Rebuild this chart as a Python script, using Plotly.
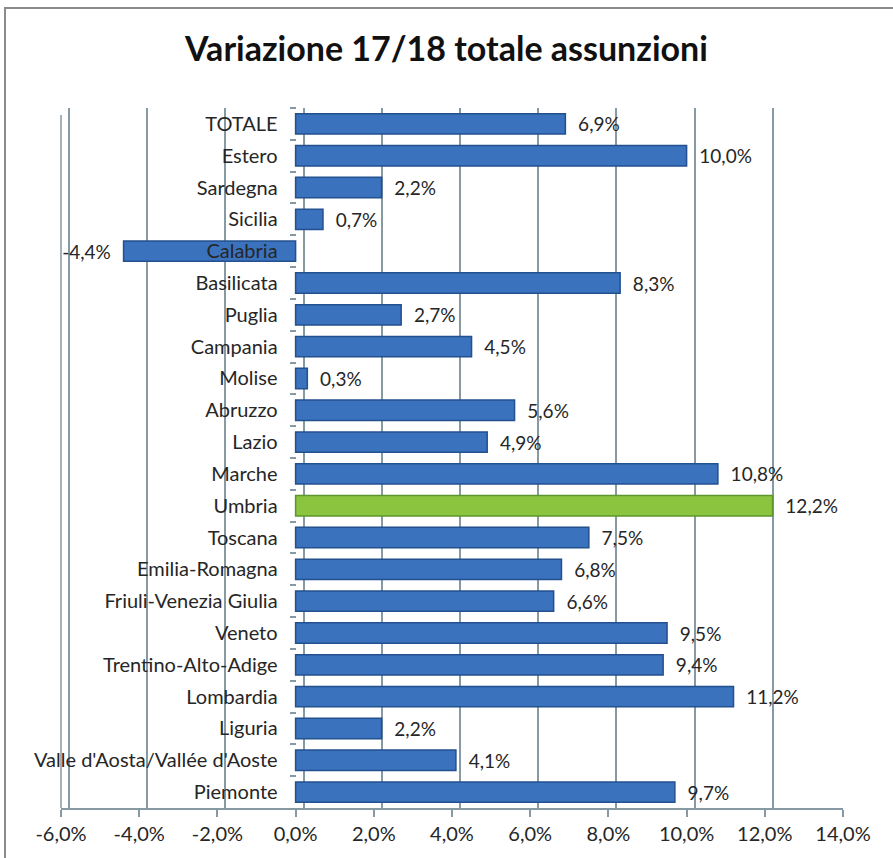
import plotly.graph_objects as go

categories = ["TOTALE", "Estero", "Sardegna", "Sicilia", "Calabria", "Basilicata", "Puglia",
              "Campania", "Molise", "Abruzzo", "Lazio", "Marche", "Umbria", "Toscana",
              "Emilia-Romagna", "Friuli-Venezia Giulia", "Veneto", "Trentino-Alto-Adige",
              "Lombardia", "Liguria", "Valle d'Aosta/Vallée d'Aoste", "Piemonte"]
values = [6.9, 10.0, 2.2, 0.7, -4.4, 8.3, 2.7, 4.5, 0.3, 5.6, 4.9, 10.8, 12.2, 7.5,
          6.8, 6.6, 9.5, 9.4, 11.2, 2.2, 4.1, 9.7]
highlight = "Umbria"
tick_vals = [-6, -4, -2, 0, 2, 4, 6, 8, 10, 12, 14]
tick_text = ["-6,0%", "-4,0%", "-2,0%", "0,0%", "2,0%", "4,0%", "6,0%", "8,0%", "10,0%", "12,0%", "14,0%"]

BLUE = "#3A72BE"
BLUE_EDGE = "#23508E"
GREEN = "#8BC43F"
GREEN_EDGE = "#5C962A"
GRID = "#8799A3"
FONT = "Lato, Calibri, sans-serif"
TXT = "#262626"

colors = [GREEN if c == highlight else BLUE for c in categories]
edges = [GREEN_EDGE if c == highlight else BLUE_EDGE for c in categories]
pad = "\u00a0\u00a0"
labels = []
for v in values:
    s = ("%.1f%%" % v).replace(".", ",")
    labels.append(pad + s if v >= 0 else s + pad)

W, H = 893, 858
ml, mr, mt, mb = 61, 50, 108, 50
pw = W - ml - mr
ph = H - mt - mb
xmin, xmax = -6, 14
px_per_unit = pw / (xmax - xmin)
depth = 8 / px_per_unit  # back-wall offset of the 3D gridlines
n = len(categories)

fig = go.Figure()
# invisible carrier so the back-wall (offset) grid axis gets drawn
fig.add_trace(go.Scatter(x=values, y=categories, xaxis="x2", mode="markers",
                         marker=dict(opacity=0), hoverinfo="skip", showlegend=False))
fig.add_trace(go.Bar(
    x=values, y=categories, orientation="h",
    marker=dict(color=colors, line=dict(color=edges, width=1.5)),
    width=0.64,
    text=labels, textposition="outside", cliponaxis=False, constraintext="none",
    textfont=dict(family=FONT, size=19, color=TXT),
))

zero_pos = (0 - xmin) / (xmax - xmin)

fig.update_layout(
    width=W, height=H,
    margin=dict(l=ml, r=mr, t=mt, b=mb, autoexpand=False),
    paper_bgcolor="white", plot_bgcolor="white",
    showlegend=False,
    title=dict(text="<b>Variazione 17/18 totale assunzioni</b>", x=0.5, xanchor="center",
               y=1 - 49 / H, yanchor="middle",
               font=dict(family=FONT, size=34, color="#111111")),
    xaxis=dict(range=[xmin, xmax], tickvals=tick_vals, ticktext=tick_text,
               showgrid=False, zeroline=False,
               showline=True, linecolor=GRID, linewidth=2,
               ticks="outside", ticklen=7, tickcolor=GRID, tickwidth=2,
               tickfont=dict(family=FONT, size=20, color=TXT),
               automargin=False, fixedrange=True),
    xaxis2=dict(range=[xmin - depth, xmax - depth], overlaying="x", side="bottom",
                tickvals=tick_vals, showticklabels=False, ticks="",
                showgrid=True, gridcolor=GRID, gridwidth=2,
                zeroline=False, showline=False, automargin=False, fixedrange=True),
    yaxis=dict(categoryorder="array", categoryarray=categories, range=[n - 0.5, -0.5],
               anchor="free", position=zero_pos, showline=False, showgrid=False,
               ticks="outside", tickson="boundaries", ticklen=6, tickcolor=GRID, tickwidth=2,
               ticklabelstandoff=18, automargin=False, fixedrange=True,
               tickfont=dict(family=FONT, size=20, color=TXT)),
    shapes=[
        dict(type="rect", xref="paper", yref="paper",
             x0=(5 - ml) / pw, x1=(W + 5 - ml) / pw,
             y0=(mb - H - 5) / ph, y1=(H - 8 - mb) / ph,
             line=dict(color="#8A8A8A", width=2), fillcolor="rgba(0,0,0,0)", layer="below"),
        dict(type="line", xref="paper", yref="paper",
             x0=0, x1=0, y0=0, y1=0.99,
             line=dict(color=GRID, width=1.5)),
    ],
)

fig.write_html("out.html", config={"displayModeBar": False},
               post_script="document.body.style.margin='0px';")
